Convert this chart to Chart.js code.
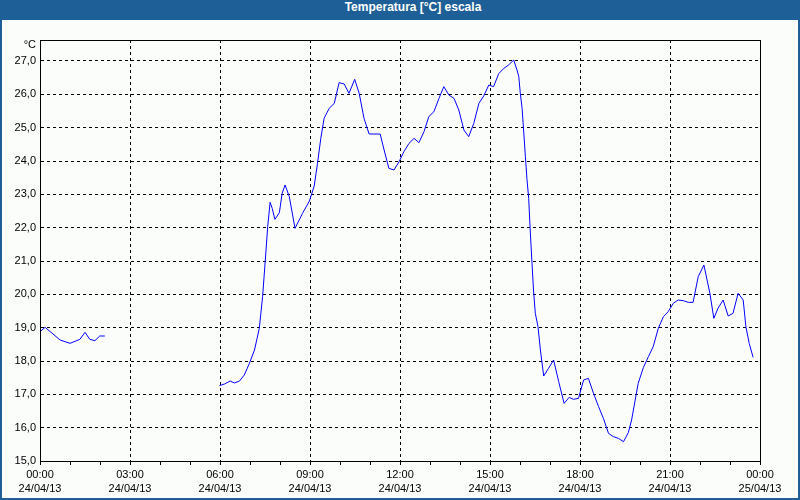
<!DOCTYPE html>
<html>
<head>
<meta charset="utf-8">
<script src="https://cdn.jsdelivr.net/npm/chart.js@4.4.1/dist/chart.umd.min.js"></script>
<style>
  html, body { margin: 0; padding: 0; background: #1d5f96; }
  #wrap { position: relative; width: 800px; height: 500px; background: #1d5f96; overflow: hidden; }
  #title { position: absolute; left: 0; top: 0; width: 800px; height: 20px; line-height: 20px;
           color: #ffffff; font: bold 12px "Liberation Sans", Arial, sans-serif; text-align: center;
           box-sizing: border-box; padding-left: 26px; }
  #panel { position: absolute; left: 2px; top: 20px; width: 796px; height: 478px; background: #fbfdfb; }
  canvas { display: block; }
</style>
</head>
<body>
<div id="wrap">
  <div id="title">Temperatura [°C] escala</div>
  <div id="panel"><canvas id="c" width="796" height="478"></canvas></div>
</div>
<script>
// ---- data (hours since 00:00 on 24/04/13, temperature in °C); null = gap in record ----
const hours = [
  0.00, 0.17, 0.67, 1.00, 1.33, 1.50, 1.66, 1.83, 1.99, 2.16,
  4.00,
  5.98, 6.15, 6.34, 6.48, 6.65, 6.81, 6.98, 7.15, 7.31, 7.42, 7.51, 7.59, 7.67, 7.74, 7.83, 7.98,
  8.07, 8.17, 8.31, 8.50, 8.75, 8.98, 9.14, 9.25, 9.36, 9.47, 9.64, 9.81, 9.97, 10.14, 10.30,
  10.49, 10.64, 10.80, 10.97, 11.34, 11.47, 11.63, 11.80, 11.97, 12.13, 12.30, 12.47, 12.63,
  12.80, 12.96, 13.13, 13.30, 13.46, 13.63, 13.80, 13.96, 14.13, 14.29, 14.46, 14.63, 14.79,
  14.96, 15.12, 15.29, 15.46, 15.62, 15.79, 15.90, 15.96, 16.01, 16.07, 16.12, 16.18, 16.23,
  16.29, 16.34, 16.40, 16.45, 16.51, 16.60, 16.68, 16.79, 16.95, 17.12, 17.29, 17.47, 17.64,
  17.78, 17.95, 18.12, 18.28, 18.45, 18.62, 18.78, 18.95, 19.11, 19.28, 19.45, 19.61, 19.72,
  19.84, 19.94, 20.11, 20.28, 20.44, 20.61, 20.78, 20.94, 21.11, 21.27, 21.44, 21.61, 21.77,
  21.94, 22.05, 22.13, 22.33, 22.46, 22.60, 22.77, 22.94, 23.10, 23.27, 23.44, 23.53, 23.64, 23.77
];
const temps = [
  18.88, 19.01, 18.63, 18.53, 18.65, 18.86, 18.65, 18.61, 18.75, 18.75,
  null,
  17.26, 17.31, 17.40, 17.34, 17.40, 17.58, 17.93, 18.33, 18.98, 19.93, 21.03, 22.03, 22.76, 22.58, 22.25, 22.45,
  23.03, 23.28, 22.93, 21.98, 22.43, 22.80, 23.25, 23.93, 24.68, 25.28, 25.58, 25.73, 26.35, 26.31, 26.03,
  26.45, 26.03, 25.28, 24.81, 24.81, 24.33, 23.78, 23.73, 23.98, 24.28, 24.53, 24.68, 24.55,
  24.88, 25.33, 25.48, 25.88, 26.23, 25.98, 25.88, 25.53, 24.93, 24.73, 25.13, 25.73, 25.95,
  26.28, 26.23, 26.62, 26.78, 26.88, 27.03, 26.73, 26.53, 26.03, 25.58, 24.93, 24.13, 23.48,
  22.88, 21.93, 20.93, 20.13, 19.43, 19.03, 18.33, 17.55, 17.78, 18.03, 17.38, 16.73, 16.91,
  16.85, 16.88, 17.43, 17.48, 17.03, 16.63, 16.28, 15.83, 15.73, 15.68, 15.58, 15.85, 16.23,
  16.83, 17.33, 17.80, 18.13, 18.43, 18.98, 19.33, 19.48, 19.73, 19.83, 19.81, 19.76, 19.76,
  20.53, 20.73, 20.88, 20.03, 19.28, 19.58, 19.83, 19.35, 19.43, 20.03, 19.83, 19.03, 18.53, 18.11
];
const xLabelHours = [0, 3, 6, 9, 12, 15, 18, 21, 24];
const xTimeLabels = ["00:00", "03:00", "06:00", "09:00", "12:00", "15:00", "18:00", "21:00", "00:00"];
const xDateLabels = ["24/04/13", "24/04/13", "24/04/13", "24/04/13", "24/04/13", "24/04/13", "24/04/13", "24/04/13", "25/04/13"];
const yTickValues = [15, 16, 17, 18, 19, 20, 21, 22, 23, 24, 25, 26, 27];
const yUnit = "°C";

// ---- chart ----
const points = hours.map((h, i) => ({ x: h, y: temps[i] }));
const FONT = { family: "'Liberation Sans', Arial, sans-serif", size: 11, lineHeight: 1.3 };

const framePlugin = {
  id: 'frame',
  afterDraw(chart) {
    const { ctx, chartArea: a } = chart;
    ctx.save();
    ctx.strokeStyle = '#000000';
    ctx.lineWidth = 1;
    ctx.setLineDash([]);
    ctx.strokeRect(Math.round(a.left) + 0.5, Math.round(a.top) + 0.5,
                   Math.round(a.right - a.left), Math.round(a.bottom - a.top));
    ctx.fillStyle = '#000000';
    ctx.font = "11px 'Liberation Sans', Arial, sans-serif";
    ctx.textAlign = 'right';
    ctx.textBaseline = 'middle';
    ctx.fillText(yUnit, a.left - 4, a.top + 5);
    ctx.restore();
  }
};

new Chart(document.getElementById('c'), {
  type: 'line',
  data: {
    datasets: [{
      data: points,
      borderColor: '#0000ff',
      borderWidth: 1,
      pointRadius: 0,
      tension: 0,
      spanGaps: false,
      fill: false
    }]
  },
  options: {
    responsive: false,
    animation: false,
    devicePixelRatio: 1,
    layout: { padding: { top: 20, right: 38, left: 0, bottom: 0 } },
    plugins: { legend: { display: false }, tooltip: { enabled: false }, title: { display: false } },
    scales: {
      x: {
        type: 'linear',
        min: 0, max: 24,
        afterFit(scale) { scale.height = 37; },
        ticks: {
          stepSize: 1,
          autoSkip: false,
          maxRotation: 0,
          color: '#000000',
          font: FONT,
          padding: 3,
          callback(v) {
            const i = xLabelHours.indexOf(v);
            return i >= 0 ? [xTimeLabels[i], xDateLabels[i]] : '';
          }
        },
        grid: {
          color(ctx) {
            const v = ctx.tick && ctx.tick.value;
            return (v % 3 === 0 && v !== 0 && v !== 24) ? '#000000' : 'rgba(0,0,0,0)';
          },
          tickColor: '#000000',
          tickLength: 4,
          lineWidth: 1
        },
        border: { display: true, color: '#000000', width: 1, dash: [3, 3] }
      },
      y: {
        type: 'linear',
        min: 15, max: 27.63,
        afterFit(scale) { scale.width = 38; },
        afterBuildTicks(scale) { scale.ticks = yTickValues.map(v => ({ value: v })); },
        ticks: {
          color: '#000000',
          font: FONT,
          padding: 4,
          callback(v) { return v.toFixed(1).replace('.', ','); }
        },
        grid: {
          color(ctx) {
            const v = ctx.tick && ctx.tick.value;
            return v === 15 ? 'rgba(0,0,0,0)' : '#000000';
          },
          drawTicks: false,
          lineWidth: 1
        },
        border: { display: true, color: '#000000', width: 1, dash: [3, 3] }
      }
    }
  },
  plugins: [framePlugin]
});
</script>
</body>
</html>
